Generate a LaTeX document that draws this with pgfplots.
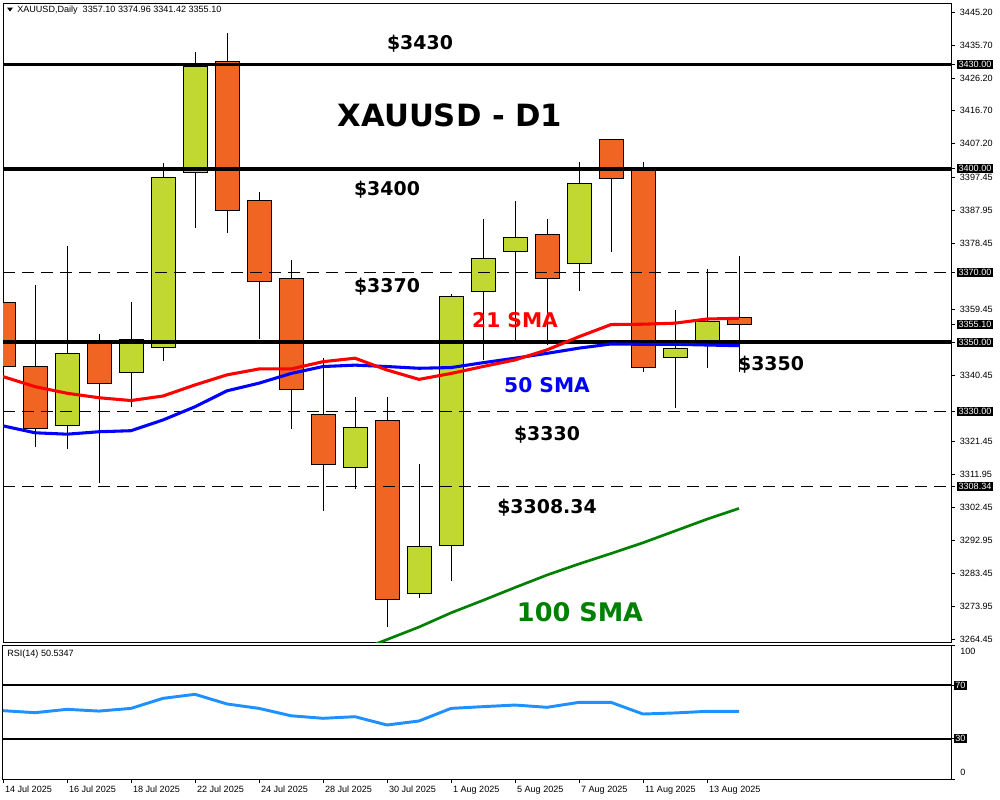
\documentclass[border=0pt]{standalone}
\usepackage{fontspec}
\setmainfont{Liberation Sans}
\newfontfamily\dvs{DejaVu Sans}
\usepackage{pgfplots}
\usepackage{pgfplotstable}
\pgfplotsset{compat=1.18}
\definecolor{cgreen}{RGB}{194,216,50}
\definecolor{corange}{RGB}{241,101,34}
\definecolor{rsiblue}{RGB}{30,144,255}
\definecolor{smagreen}{RGB}{0,128,0}
\newcommand\sm{\fontsize{6.8}{8}\selectfont}
% daily candles: index, open, high, low, close
\pgfplotstableread{
k o h l c
2 3326.1 3377.7 3319.2 3346.9
4 3341.4 3361.6 3331.3 3350.9
5 3348.6 3401.7 3344.6 3397.6
6 3398.8 3433.7 3382.9 3429.6
11 3314.0 3334.2 3307.7 3325.3
13 3277.7 3314.9 3276.3 3291.0
14 3291.5 3363.9 3281.2 3363.3
15 3364.5 3385.5 3344.9 3374.0
16 3376.3 3390.7 3350.6 3380.3
18 3372.6 3402.0 3364.8 3395.9
21 3345.5 3359.3 3331.0 3348.3
22 3350.4 3371.1 3342.6 3356.1
}\greentab
\pgfplotstableread{
k o h l c
0 3361.6 3374.9 3340.6 3342.9
1 3342.9 3366.5 3319.8 3325.0
3 3349.8 3352.4 3309.4 3338.2
7 3430.8 3439.1 3381.5 3388.1
8 3391.0 3393.3 3350.9 3367.4
9 3368.5 3373.7 3325.0 3336.5
10 3329.3 3345.5 3301.4 3314.9
12 3327.3 3334.2 3267.9 3275.7
17 3381.2 3385.5 3349.2 3368.5
19 3408.3 3408.5 3376.0 3397.3
20 3399.9 3402.0 3341.4 3342.6
23 3357.10 3374.96 3341.42 3355.10
}\orangetab
\pgfplotsset{
  wick/.style={draw=none, mark=none, forget plot,
    error bars/.cd, y dir=plus, y explicit, error mark=none,
    error bar style={draw=black, solid, line width=0.75pt}},
  bodyedge/.style={draw=none, mark=none, forget plot,
    error bars/.cd, y dir=plus, y explicit, error mark=none,
    error bar style={draw=black, solid, line width=18.75pt}},
  bodyfill/.style={draw=none, mark=none, forget plot,
    error bars/.cd, y dir=plus, y explicit, error mark=none,
    error bar style={draw=#1, solid, line width=17.25pt}},
}
\begin{document}
\begin{tikzpicture}
\path[use as bounding box] (0,0) rectangle (750pt,-600pt);
\fill[white] (0,0) rectangle (750pt,-600pt);
\begin{axis}[
  at={(2.25pt,-481.5pt)}, anchor=south west,
  width=711pt, height=479.25pt, scale only axis,
  xmin=0, xmax=29.625, ymin=3263.59, ymax=3447.79,
  axis line style={line width=0.75pt},
  clip mode=individual,
  xtick=\empty,
  ytick={3264.45,3273.95,3283.45,3292.95,3302.45,3311.95,3321.45,3340.45,3359.45,3378.45,3387.95,3397.45,3407.20,3416.70,3426.20,3435.70,3445.20},
  yticklabels={3264.45,3273.95,3283.45,3292.95,3302.45,3311.95,3321.45,3340.45,3359.45,3378.45,3387.95,3397.45,3407.20,3416.70,3426.20,3435.70,3445.20},
  ytick pos=right, yticklabel pos=right,
  tick align=outside, major tick length=3pt,
  tick style={black, line width=0.6pt},
  yticklabel style={font=\sm, anchor=west, inner sep=1pt, xshift=2.5pt},
  extra y ticks={3430,3400,3370,3355.10,3350,3330,3308.34},
  extra y tick labels={3430.00,3400.00,3370.00,3355.10,3350.00,3330.00,3308.34},
  extra y tick style={yticklabel style={fill=black, text=white, inner sep=1pt, xshift=-1pt}},
]
% wicks
\addplot[wick] table[x=k, y=l, y error plus expr={\thisrow{h}-\thisrow{l}}] {\greentab};
\addplot[wick] table[x=k, y=l, y error plus expr={\thisrow{h}-\thisrow{l}}] {\orangetab};
% bodies
\addplot[bodyedge] table[x=k, y expr={min(\thisrow{o},\thisrow{c})-0.144}, y error plus expr={abs(\thisrow{c}-\thisrow{o})+0.288}] {\greentab};
\addplot[bodyedge] table[x=k, y expr={min(\thisrow{o},\thisrow{c})-0.144}, y error plus expr={abs(\thisrow{c}-\thisrow{o})+0.288}] {\orangetab};
\addplot[bodyfill=cgreen] table[x=k, y expr={min(\thisrow{o},\thisrow{c})+0.144}, y error plus expr={abs(\thisrow{c}-\thisrow{o})-0.288}] {\greentab};
\addplot[bodyfill=corange] table[x=k, y expr={min(\thisrow{o},\thisrow{c})+0.144}, y error plus expr={abs(\thisrow{c}-\thisrow{o})-0.288}] {\orangetab};
% support / resistance
\addplot[black, line width=2.5pt] coordinates {(0,3430) (29.625,3430)};
\addplot[black, line width=3.2pt] coordinates {(0,3400) (29.625,3400)};
\addplot[black, line width=3pt] coordinates {(0,3350) (29.625,3350)};
\addplot[black, line width=0.75pt, dash pattern=on 9pt off 5.25pt] coordinates {(0,3370) (29.625,3370)};
\addplot[black, line width=0.75pt, dash pattern=on 9pt off 5.25pt] coordinates {(0,3330) (29.625,3330)};
\addplot[black, line width=0.75pt, dash pattern=on 9pt off 5.25pt] coordinates {(0,3308.34) (29.625,3308.34)};
% 50 SMA
\addplot[blue, line width=2.3pt] coordinates {
(0,3325.9) (1,3323.9) (2,3323.5) (3,3324.2) (4,3324.5) (5,3327.6) (6,3331.4) (7,3336.0)
(8,3338.2) (9,3341.0) (10,3343.0) (11,3343.4) (12,3343.0) (13,3342.5) (14,3342.7) (15,3344.1)
(16,3345.4) (17,3346.8) (18,3348.3) (19,3349.5) (20,3349.4) (21,3349.4) (22,3349.2) (23,3349.0)};
% 21 SMA
\addplot[red, line width=2.3pt] coordinates {
(0,3340.1) (1,3337.2) (2,3335.3) (3,3334.0) (4,3333.2) (5,3334.5) (6,3337.7) (7,3340.6)
(8,3342.3) (9,3342.3) (10,3344.4) (11,3345.4) (12,3342.0) (13,3339.3) (14,3341.0) (15,3343.0)
(16,3344.9) (17,3347.8) (18,3351.6) (19,3355.1) (20,3355.2) (21,3355.5) (22,3356.7) (23,3356.9)};
% 100 SMA
\addplot[smagreen, line width=2pt] coordinates {
(11,3260.7) (12,3264.3) (13,3267.9) (14,3272.0) (15,3275.6) (16,3279.3) (17,3282.9)
(18,3286.1) (19,3289.1) (20,3292.2) (21,3295.6) (22,3299.0) (23,3302.1)};
\end{axis}

\begin{axis}[
  at={(2.25pt,-584.25pt)}, anchor=south west,
  width=711pt, height=100.5pt, scale only axis,
  xmin=0, xmax=29.625, ymin=0, ymax=100,
  axis line style={line width=0.75pt},
  clip mode=individual,
  xtick={0,2,4,6,8,10,12,14,16,18,20,22},
  xticklabels={14 Jul 2025,16 Jul 2025,18 Jul 2025,22 Jul 2025,24 Jul 2025,28 Jul 2025,30 Jul 2025,1 Aug 2025,5 Aug 2025,7 Aug 2025,11 Aug 2025,13 Aug 2025},
  xtick pos=left, ytick pos=right, yticklabel pos=right,
  tick align=outside, major tick length=3pt,
  tick style={black, line width=0.6pt},
  xticklabel style={font=\sm, anchor=north west, xshift=-2pt, yshift=1pt},
  ytick={0,100}, yticklabels={,},
  yticklabel style={font=\sm, anchor=west},
  extra y ticks={30,70}, extra y tick labels={30,70},
  extra y tick style={yticklabel style={fill=black, text=white, inner sep=1pt, xshift=-1pt}},
]
\addplot[black, line width=1.6pt] coordinates {(0,70) (29.625,70)};
\addplot[black, line width=1.6pt] coordinates {(0,30) (29.625,30)};
\addplot[rsiblue, line width=2.2pt] coordinates {
(0,51.0) (1,49.5) (2,52.0) (3,50.7) (4,52.7) (5,60.2) (6,63.2) (7,56.0) (8,52.7) (9,47.2)
(10,45.3) (11,46.5) (12,40.3) (13,43.3) (14,52.7) (15,54.0) (16,55.2) (17,53.5) (18,57.2)
(19,57.2) (20,48.5) (21,49.3) (22,50.5) (23,50.53)};
\end{axis}

\begin{scope}[x=0.75pt,y=-0.75pt]
\fill[black] (7,7.5) -- (13,7.5) -- (10,11.5) -- cycle;
\node[anchor=west, font=\sm, inner sep=0pt] at (17,10) {XAUUSD,Daily\ \ 3357.10 3374.96 3341.42 3355.10};
\node[anchor=west, font=\sm, inner sep=0pt] at (7,654) {RSI(14) 50.5347};
\node[anchor=west, font=\sm, inner sep=0pt] at (960,651) {100};
\node[anchor=west, font=\sm, inner sep=0pt] at (960,772) {0};
\tikzset{big/.style={font=\dvs\bfseries\fontsize{14.2}{15}\selectfont, inner sep=0pt}}
\node[big] at (420,44) {\$3430};
\node[font=\dvs\bfseries\fontsize{23}{24}\selectfont, inner sep=0pt] at (450,115) {XAUUSD - D1};
\node[big] at (387,190) {\$3400};
\node[big] at (387,287) {\$3370};
\node[font=\dvs\bfseries\fontsize{15.2}{16}\selectfont, inner sep=0pt, text=red] at (515,320) {21 SMA};
\node[font=\dvs\bfseries\fontsize{15.2}{16}\selectfont, inner sep=0pt, text=blue] at (547,385) {50 SMA};
\node[big] at (547,435) {\$3330};
\node[big] at (547,508) {\$3308.34};
\node[font=\dvs\bfseries\fontsize{19.2}{20}\selectfont, inner sep=0pt, text=smagreen] at (580,612) {100 SMA};
\node[big] at (771,365) {\$3350};
\end{scope}
\end{tikzpicture}
\end{document}
